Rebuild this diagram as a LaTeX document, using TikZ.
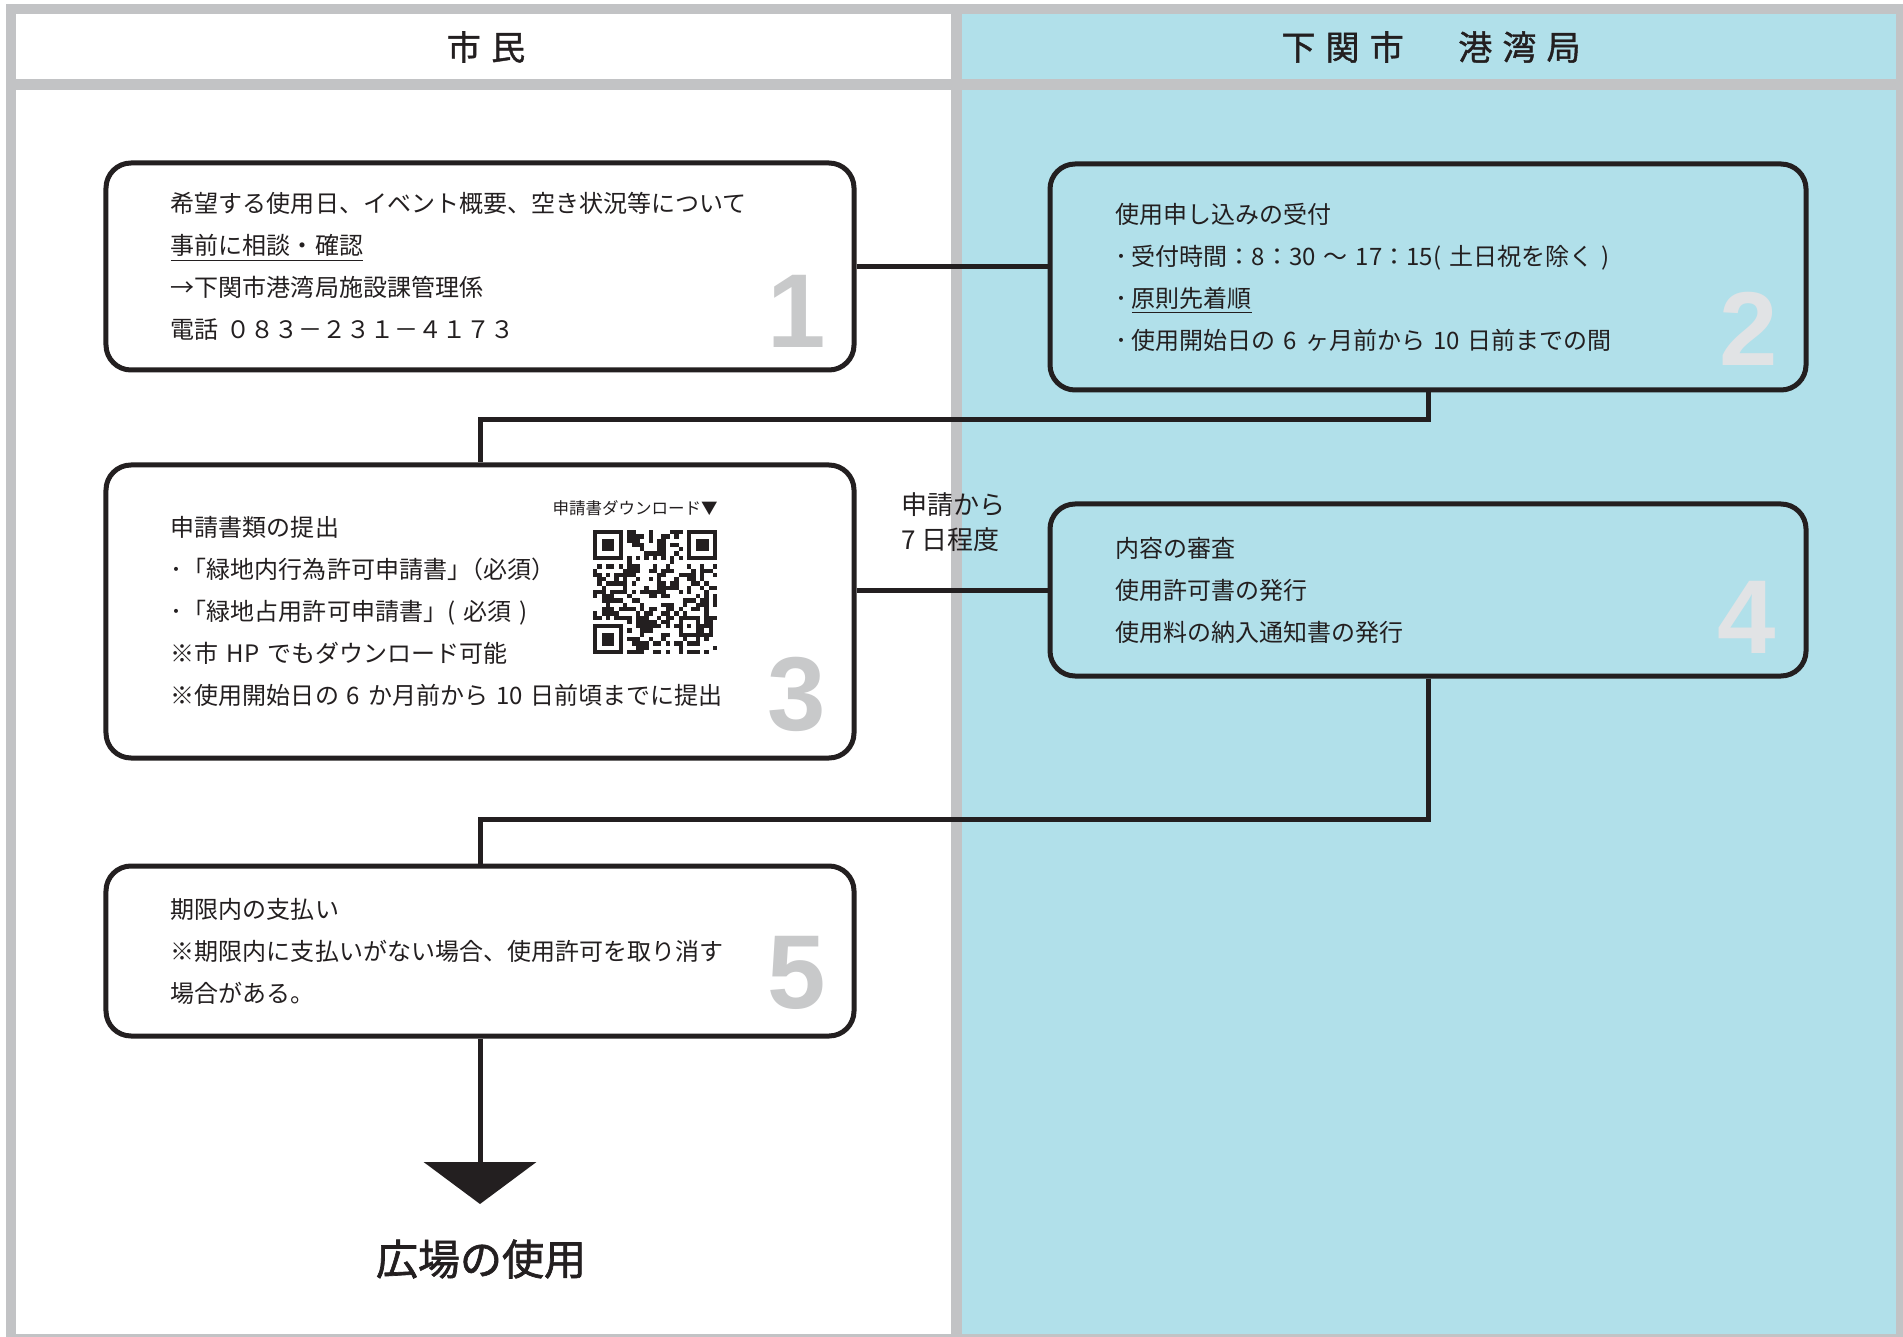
\documentclass[tikz,border=0pt]{standalone}
\usepackage{fontspec}
\setmainfont{Noto Sans CJK JP}
\newfontfamily\headfont{Noto Sans CJK JP}[LetterSpace=30,FakeBold=1.2]
\newfontfamily\titlefont{Noto Sans CJK JP}[FakeBold=1.6]
\newfontfamily\numfont{Liberation Sans}
\usepackage{tikz}
\usetikzlibrary{arrows.meta,calc,positioning}
\definecolor{lanegray}{HTML}{C2C3C5}
\definecolor{laneblue}{HTML}{B1E0EA}
\definecolor{inkblack}{HTML}{231F20}
\definecolor{numgray}{HTML}{C8C9CA}
\definecolor{numpale}{HTML}{E1E3E5}

\begin{document}
\begin{tikzpicture}[x=0.4pt,y=-0.4pt,
		stepbox/.style={draw=inkblack,line width=2pt,rounded corners=10pt,align=left,text width=#1,
			inner xsep=26pt,inner ysep=0pt,text=inkblack,font=\fontsize{9.6pt}{16.8pt}\selectfont},
		numlabel/.style={inner sep=0pt,anchor=base east,font=\numfont\bfseries\fontsize{42pt}{42pt}\selectfont},
		headtext/.style={inner sep=0pt,text=inkblack,font=\headfont\fontsize{13.6pt}{13.6pt}\selectfont},
		link/.style={draw=inkblack,line width=2pt}]
		\useasboundingbox (0,0) rectangle (1903,1337);
		\fill[white] (0,0) rectangle (1903,1337);
		\fill[lanegray] (6,4) rectangle (1903,1337);
		\fill[white] (16,14) rectangle (951,79);
		\fill[laneblue] (962,14) rectangle (1896,79);
		\fill[white] (16,90) rectangle (951,1334);
		\fill[laneblue] (962,90) rectangle (1896,1334);

		\node[headtext] (hcitizen) at (486,47) {市民};
		\node[headtext] (hport) at (1431,47) {下関市　港湾局};

		\node[stepbox=247.2pt,minimum height=82.8pt] (s1) at (480,266.5) {希望する使用日、イベント概要、空き状況等について\\
			\underline{事前に相談・確認}\\
			→下関市港湾局施設課管理係\\
			電話 ０８３－２３１－４１７３};
		\node[stepbox=250.4pt,minimum height=90.4pt] (s2) at (1428,277) {使用申し込みの受付\\
			･\hspace{0.2em}受付時間：8：30 ～ 17：15( 土日祝を除く )\\
			･\hspace{0.2em}\underline{原則先着順}\\
			･\hspace{0.2em}使用開始日の 6 ヶ月前から 10 日前までの間};
		\node[stepbox=247.2pt,minimum height=117.2pt] (s3) at (480,611.5) {申請書類の提出\\
			･「緑地内行為許可申請書」\kern-0.5em（必須）\\
			･「緑地占用許可申請書」( 必須 )\\
			※市 HP でもダウンロード可能\\
			※使用開始日の 6 か月前から 10 日前頃までに提出};
		\node[stepbox=250.4pt,minimum height=68.8pt] (s4) at (1428,590) {内容の審査\\
			使用許可書の発行\\
			使用料の納入通知書の発行};
		\node[stepbox=247.2pt,minimum height=68pt] (s5) at (480,951) {期限内の支払い\\
			※期限内に支払いがない場合、使用許可を取り消す\\
			場合がある。};

		\node[numlabel,text=numgray] (n1) at ($(s1.south east)+(-30,-25)$) {1};
		\node[numlabel,text=numpale] (n2) at ($(s2.south east)+(-30,-27)$) {2};
		\node[numlabel,text=numgray] (n3) at ($(s3.south east)+(-30,-30)$) {3};
		\node[numlabel,text=numpale] (n4) at ($(s4.south east)+(-32,-25)$) {4};
		\node[numlabel,text=numgray] (n5) at ($(s5.south east)+(-30,-30)$) {5};

		\node[anchor=east,inner sep=0pt,text=inkblack,font=\fontsize{6.6pt}{6.6pt}\selectfont] (qrlabel) at (718,508) {申請書ダウンロード▼};
		\begin{scope}[shift={(593,530)},x=1.712pt,y=-1.712pt]
			\pgfmathsetseed{4173}
			\foreach \i in {0,...,28}
				\foreach \j in {0,...,28}{
					\pgfmathtruncatemacro\keep{(rnd<0.5)&&not((\i<8&&\j<8)||(\i>20&&\j<8)||(\i<8&&\j>20)||(\i>19&&\i<25&&\j>19&&\j<25)||\i==6||\j==6)}
					\ifnum\keep=1 \fill[inkblack] (\i,\j) rectangle ++(1,1); \fi
				}
			\foreach \a/\b in {0/0,22/0,0/22}{
				\fill[inkblack] (\a,\b) rectangle ++(7,7);
				\fill[white] (\a+1,\b+1) rectangle ++(5,5);
				\fill[inkblack] (\a+2,\b+2) rectangle ++(3,3);
			}
			\fill[inkblack] (20,20) rectangle ++(5,5);
			\fill[white] (21,21) rectangle ++(3,3);
			\fill[inkblack] (22,22) rectangle ++(1,1);
			\foreach \k in {8,10,...,20}{
				\fill[inkblack] (\k,6) rectangle ++(1,1);
				\fill[inkblack] (6,\k) rectangle ++(1,1);
			}
		\end{scope}

		\node[anchor=west,align=left,inner sep=0pt,text=inkblack,font=\fontsize{10.4pt}{14pt}\selectfont] (lag) at (901,522) {申請から\\7 日程度};

		\draw[link] (s1.east) -- (s1.east -| s2.west);
		\draw[link] (s2.south) -- ++(0,27) -| (s3.north);
		\draw[link] (s4.west -| s3.east) -- (s4.west);
		\draw[link] (s4.south) -- ++(0,141) -| (s5.north);

		\coordinate (tip) at (480,1204);
		\draw[link,-{Triangle[width=44.8pt,length=16.8pt]}] (s5.south) -- (tip);
		\node[inner sep=0pt,text=inkblack,font=\titlefont\fontsize{16.8pt}{16.8pt}\selectfont] (use) at (481,1259) {広場の使用};
	\end{tikzpicture}
\end{document}
